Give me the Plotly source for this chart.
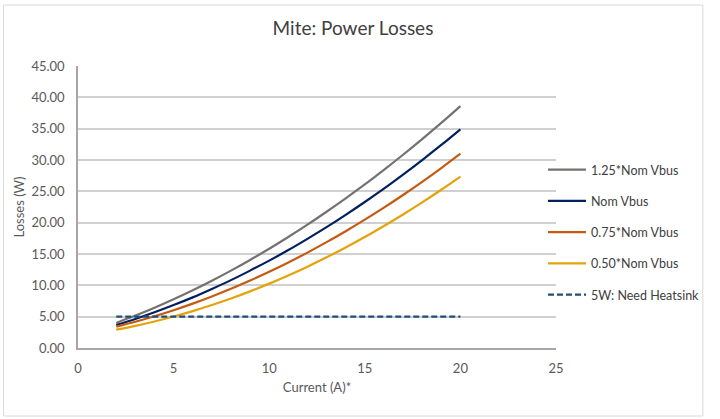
import plotly.graph_objects as go

current = list(range(2, 21))
loss_125 = [4.00, 5.17, 6.43, 7.78, 9.21, 10.74, 12.35, 14.05, 15.84, 17.72, 19.68, 21.74, 23.88, 26.10, 28.43, 30.84, 33.34, 35.92, 38.60]
loss_nom = [3.67, 4.64, 5.70, 6.85, 8.08, 9.42, 10.83, 12.35, 13.94, 15.63, 17.42, 19.28, 21.25, 23.30, 25.43, 27.67, 29.99, 32.40, 34.90]
loss_075 = [3.40, 4.19, 5.06, 6.03, 7.08, 8.22, 9.44, 10.76, 12.16, 13.65, 15.22, 16.89, 18.64, 20.48, 22.40, 24.42, 26.52, 28.71, 31.00]
loss_050 = [2.92, 3.53, 4.23, 5.02, 5.89, 6.85, 7.90, 9.04, 10.27, 11.58, 12.98, 14.47, 16.05, 17.71, 19.47, 21.31, 23.23, 25.25, 27.35]
heatsink_x = [2, 20]
heatsink_y = [5, 5]

series_names = ["1.25*Nom Vbus", "Nom Vbus", "0.75*Nom Vbus", "0.50*Nom Vbus"]
series_vals = [loss_125, loss_nom, loss_075, loss_050]
series_colors = ["#767171", "#002060", "#C55A11", "#E2A30C"]

FONT = "Lato"
TXT = "#595959"

fig = go.Figure()
for i, (n, v, c) in enumerate(zip(series_names, series_vals, series_colors)):
    fig.add_trace(go.Scatter(x=current, y=v, mode="lines", name=n,
                             line=dict(color=c, width=2.2, shape="spline"),
                             legendgroup=f"g{i}"))
fig.add_trace(go.Scatter(x=heatsink_x, y=heatsink_y, mode="lines",
                         name="5W: Need Heatsink",
                         line=dict(color="#1F4E79", width=2.2, dash="6px,3px"),
                         legendgroup="g4"))

L, R, T, B = 77.5, 164, 66, 71
W, H = 720, 419
pw = W - L - R
ph = H - T - B

def px(xp):
    return (xp - L) / pw

def py(yp):
    return (H - B - yp) / ph

fig.update_layout(
    width=W, height=H,
    margin=dict(l=L, r=R, t=T, b=B, pad=0),
    paper_bgcolor="white", plot_bgcolor="white",
    font=dict(family=FONT, size=13, color=TXT),
    title=dict(text="Mite: Power Losses", x=353 / W, xref="container", xanchor="center",
               y=1 - 28 / H, yanchor="middle",
               font=dict(family=FONT, size=19, color="#404040")),
    xaxis=dict(range=[0, 25], tickvals=[0, 5, 10, 15, 20, 25],
               showgrid=False, zeroline=False,
               showline=True, linecolor="#A6A6A6", linewidth=1.5,
               ticks="", ticklabelstandoff=8, tickfont=dict(size=13, color=TXT),
               title=dict(text="Current (A)*", font=dict(size=13, color=TXT), standoff=8)),
    yaxis=dict(range=[0, 45], tickvals=[0, 5, 10, 15, 20, 25, 30, 35, 40, 45],
               tickformat=".2f",
               showgrid=True, gridcolor="#D0D0D0", gridwidth=1.5,
               zeroline=False, showline=True, linecolor="#A6A6A6", linewidth=1.5,
               ticks="", ticklabelstandoff=9, tickfont=dict(size=13, color=TXT),
               title=dict(text="Losses (W)", font=dict(size=13, color=TXT), standoff=4)),
    legend=dict(x=px(543), xanchor="left", y=py(155), yanchor="top",
                bgcolor="rgba(0,0,0,0)", tracegroupgap=12, itemwidth=38,
                font=dict(family=FONT, size=12.5, color="#404040")),
    showlegend=True,
)

fig.add_shape(type="rect", xref="paper", yref="paper",
              x0=px(3), x1=px(703), y0=py(416), y1=py(5),
              line=dict(color="#D9D9D9", width=1), fillcolor="rgba(0,0,0,0)", layer="below")

fig.write_html("out.html")
